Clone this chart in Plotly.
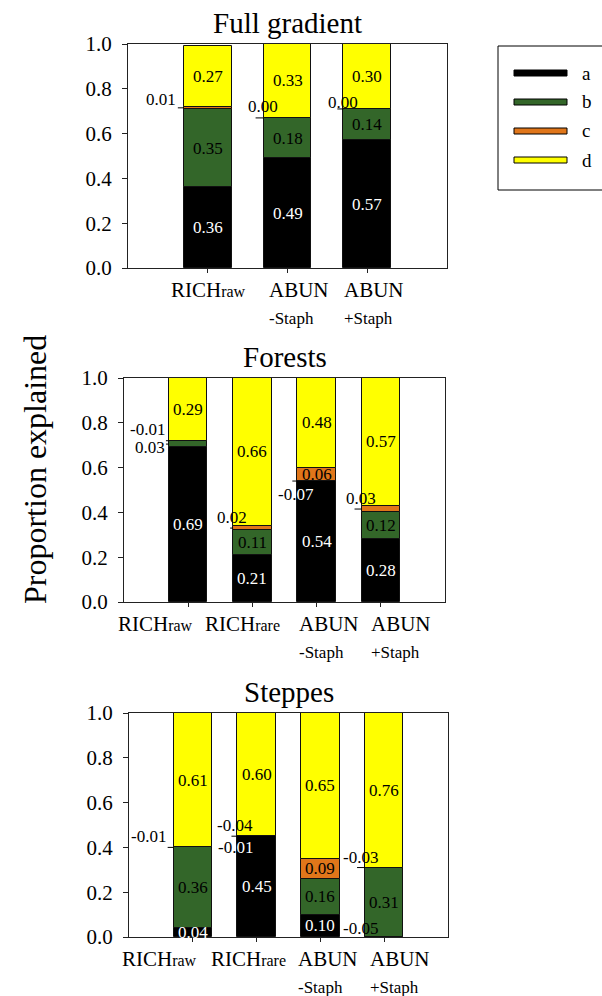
import plotly.graph_objects as go

# ---------------- data ----------------
full_cats = ["RICH<span style='font-size:16px'>raw</span>",
             "ABUN<br>-Staph",
             "ABUN<br>+Staph"]
full_a = [0.36, 0.49, 0.57]
full_b = [0.35, 0.18, 0.14]
full_c = [0.01, 0.00, 0.00]
full_d = [0.27, 0.33, 0.30]

four_cats = ["RICH<span style='font-size:16px'>raw</span>",
             "RICH<span style='font-size:16px'>rare</span>",
             "ABUN<br>-Staph",
             "ABUN<br>+Staph"]
forest_a = [0.69, 0.21, 0.54, 0.28]
forest_b = [0.03, 0.11, -0.07, 0.12]
forest_c = [-0.01, 0.02, 0.06, 0.03]
forest_d = [0.29, 0.66, 0.48, 0.57]

steppe_a = [0.04, 0.45, 0.10, -0.05]
steppe_b = [0.36, -0.01, 0.16, 0.31]
steppe_c = [-0.01, -0.04, 0.09, -0.03]
steppe_d = [0.61, 0.60, 0.65, 0.76]

y_ticks = [0.0, 0.2, 0.4, 0.6, 0.8, 1.0]
components = ["a", "b", "c", "d"]

# ---------------- style ----------------
W, H = 602, 996
FONT = "Liberation Serif"
COLORS = {"a": "#000000", "b": "#336629", "c": "#e0761a", "d": "#ffff00"}
TEXT_COL = {"a": "white", "b": "black", "c": "black", "d": "black"}
BAR_W = 0.6

# panel geometry in pixels: (left, right, top, bottom)
# outside labels: (cat index, comp): (xshift, yshift, leader length px, chars drawn white over black bar)
# xlab: left edge of each category label block relative to its tick (px)
panels = [
    dict(title="Full gradient", cats=full_cats,
         vals=dict(a=full_a, b=full_b, c=full_c, d=full_d),
         px=(128, 447, 44, 268), xlab=[-37, -19, -23],
         outside={(0, "c"): (-6, 8, 6, 0), (1, "c"): (16, 11, 8, 0), (2, "c"): (17, 6, 6, 0)}),
    dict(title="Forests", cats=four_cats,
         vals=dict(a=forest_a, b=forest_b, c=forest_c, d=forest_d),
         px=(124, 445, 378, 602), xlab=[-70, -47, -18, -10],
         outside={(0, "c"): (-2, 11, 3, 0), (0, "b"): (-2, -3, 3, 0), (1, "c"): (16, 11, 3, 0),
                  (2, "b"): (19, -13, 5, 2), (3, "c"): (16, 11, 7, 0)}),
    dict(title="Steppes", cats=four_cats,
         vals=dict(a=steppe_a, b=steppe_b, c=steppe_c, d=steppe_d),
         px=(129, 448, 713, 937), xlab=[-71, -46, -22, -14],
         outside={(0, "c"): (-6, 11, 6, 0), (1, "c"): (18, 11, 6, 0), (1, "b"): (18, -11, 0, 2),
                  (3, "c"): (15, 10, 8, 0), (3, "a"): (15, 9, 0, 0)}),
]

fig = go.Figure()
annotations = []
shapes = []

for i, p in enumerate(panels):
    n = i + 1
    xa = "x" if n == 1 else f"x{n}"
    ya = "y" if n == 1 else f"y{n}"
    L, R, T, B = p["px"]
    ncat = len(p["cats"])
    xs = list(range(1, ncat + 1))
    px_per_unit = (R - L) / (ncat + 1)

    base = [0.0] * ncat
    for comp in components:
        v = p["vals"][comp]
        h = [max(x, 0.0) for x in v]
        fig.add_trace(go.Bar(
            x=xs, y=h, base=list(base), width=BAR_W, name=comp,
            marker=dict(color=COLORS[comp], line=dict(color="#111111", width=1)),
            xaxis=xa, yaxis=ya, showlegend=False, hoverinfo="skip"))
        for k in range(ncat):
            lo = base[k]
            hi = min(base[k] + h[k], 1.0)
            label = f"{v[k]:.2f}"
            key = (k, comp)
            if key in p["outside"]:
                xsft, ysft, llen, nwhite = p["outside"][key]
                if nwhite:
                    label = label[:-nwhite] + "<span style='color:white'>" + label[-nwhite:] + "</span>"
                level = (lo + hi) / 2
                bl = xs[k] - BAR_W / 2
                annotations.append(dict(
                    x=bl, y=level, xref=xa, yref=ya, text=label, showarrow=False,
                    xanchor="right", yanchor="middle", xshift=xsft, yshift=ysft,
                    font=dict(family=FONT, size=17, color="black")))
                if llen > 0:
                    shapes.append(dict(type="line", xref=xa, yref=ya,
                                       x0=bl - llen / px_per_unit, x1=bl, y0=level, y1=level,
                                       line=dict(color="black", width=1)))
            else:
                annotations.append(dict(
                    x=xs[k], y=(lo + hi) / 2, xref=xa, yref=ya, text=label,
                    showarrow=False, xanchor="center", yanchor="middle",
                    font=dict(family=FONT, size=17, color=TEXT_COL[comp])))
        base = [base[k] + h[k] for k in range(ncat)]

    # category labels (placed like the original: left-aligned blocks)
    for k, cat in enumerate(p["cats"]):
        lines = cat.split("<br>")
        annotations.append(dict(
            x=xs[k], y=0, xref=xa, yref=ya, text=lines[0], showarrow=False,
            xanchor="left", yanchor="middle", xshift=p["xlab"][k] - 2, yshift=-22,
            font=dict(family=FONT, size=21, color="black")))
        if len(lines) > 1:
            annotations.append(dict(
                x=xs[k], y=0, xref=xa, yref=ya, text=lines[1], showarrow=False,
                xanchor="left", yanchor="middle", xshift=p["xlab"][k] - 2, yshift=-50,
                font=dict(family=FONT, size=17, color="black")))

    xdom = [L / W, R / W]
    ydom = [1 - B / H, 1 - T / H]
    axis_common = dict(showline=True, linecolor="#222222", linewidth=1, mirror=True,
                       showgrid=False, zeroline=False, ticks="outside", automargin=False,
                       tickcolor="#222222", tickfont=dict(family=FONT, size=21, color="black"))
    fig.update_layout(**{
        ("xaxis" if n == 1 else f"xaxis{n}"): dict(
            domain=xdom, range=[0, ncat + 1], tickvals=xs, showticklabels=False,
            ticklen=4, anchor=ya, **axis_common),
        ("yaxis" if n == 1 else f"yaxis{n}"): dict(
            domain=ydom, range=[0, 1], tickvals=y_ticks, tickformat=".1f",
            ticklen=5, ticklabelstandoff=6, anchor=xa, **axis_common),
    })
    annotations.append(dict(
        x=(L + R) / 2 / W, y=1 - (T - 21) / H, xref="paper", yref="paper",
        text=p["title"], showarrow=False, xanchor="center", yanchor="middle",
        font=dict(family=FONT, size=29, color="black")))

# y-axis title
annotations.append(dict(
    x=35 / W, y=1 - 470 / H, xref="paper", yref="paper", text="Proportion explained",
    showarrow=False, textangle=-90, xanchor="center", yanchor="middle",
    font=dict(family=FONT, size=32, color="black")))

# legend box
shapes.append(dict(type="rect", xref="paper", yref="paper",
                   x0=498 / W, x1=1.02, y0=1 - 190 / H, y1=1 - 46 / H,
                   line=dict(color="black", width=1), fillcolor="white"))
leg_y = [73, 102, 131, 160]
for comp, yy in zip(components, leg_y):
    shapes.append(dict(type="rect", xref="paper", yref="paper",
                       x0=514 / W, x1=567 / W, y0=1 - (yy + 3) / H, y1=1 - (yy - 3) / H,
                       line=dict(color="black", width=1), fillcolor=COLORS[comp]))
    annotations.append(dict(
        x=580 / W, y=1 - yy / H, xref="paper", yref="paper", text=comp,
        showarrow=False, xanchor="left", yanchor="middle",
        font=dict(family=FONT, size=19, color="black")))

fig.update_layout(
    template="none",
    width=W, height=H, margin=dict(l=0, r=0, t=0, b=0, autoexpand=False),
    paper_bgcolor="white", plot_bgcolor="white",
    barmode="overlay", bargap=0,
    annotations=annotations, shapes=shapes,
    font=dict(family=FONT, color="black"),
)

fig.write_html("out.html")
